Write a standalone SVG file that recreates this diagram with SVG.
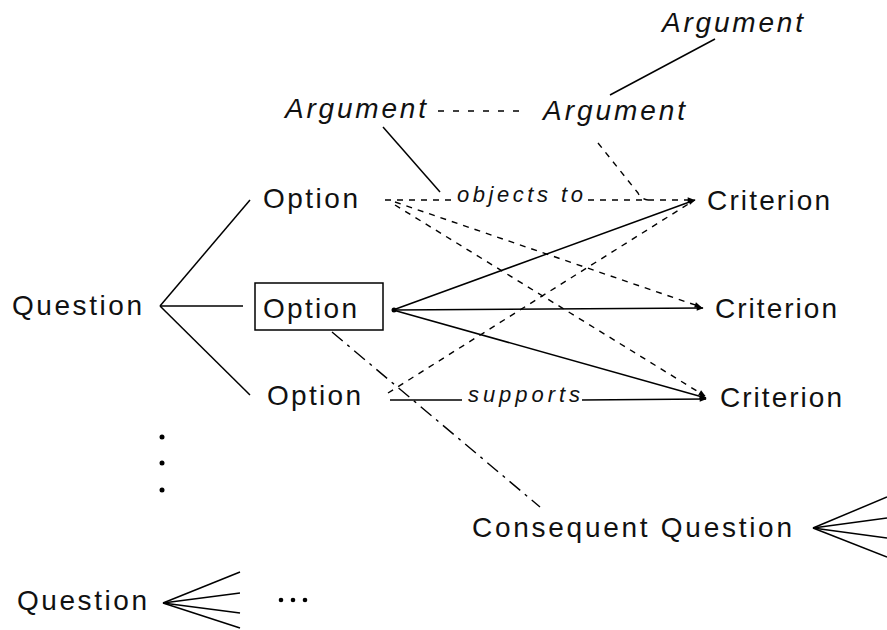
<svg xmlns="http://www.w3.org/2000/svg" width="887" height="630" viewBox="0 0 887 630">
<style>
text{font-family:"Liberation Sans",Arial,sans-serif;fill:#111;}
.n{font-size:28px;}
.a{font-size:28px;font-style:italic;}
.l{font-size:22px;font-style:italic;}
.s{stroke:#000;stroke-width:1.5;fill:none;}
.d{stroke:#000;stroke-width:1.4;fill:none;stroke-dasharray:6 6;}
.d2{stroke:#000;stroke-width:1.4;fill:none;stroke-dasharray:6 9;}
.dd{stroke:#000;stroke-width:1.4;fill:none;stroke-dasharray:14 6 3 6;}
</style>
<defs>
<marker id="ar" viewBox="0 0 10 10" refX="9" refY="5" markerWidth="9" markerHeight="7" markerUnits="userSpaceOnUse" orient="auto">
<path d="M0,1 L10,5 L0,9 z" fill="#000"/>
</marker>
</defs>
<g id="connectors">
<line class="s" x1="160" y1="306" x2="250" y2="200"/>
<line class="s" x1="160" y1="306" x2="243" y2="306"/>
<line class="s" x1="160" y1="306" x2="250" y2="395"/>
<line class="s" x1="610" y1="95" x2="715" y2="39"/>
<line class="d2" x1="438" y1="111" x2="528" y2="111"/>
<line class="s" x1="383" y1="127" x2="440" y2="192"/>
<path class="d" d="M598,143 L638,193 Q641,199 648,200"/>
<line class="d" x1="385" y1="200" x2="453" y2="200"/>
<line class="d" x1="588" y1="200" x2="694" y2="200" marker-end="url(#ar)"/>
<line class="d" x1="395" y1="202" x2="701" y2="307" marker-end="url(#ar)"/>
<line class="d" x1="395" y1="205" x2="705" y2="396" marker-end="url(#ar)"/>
<line class="d" x1="388" y1="393" x2="690" y2="203"/>
<line class="s" x1="393" y1="310" x2="695" y2="200" marker-end="url(#ar)"/>
<line class="s" x1="393" y1="310" x2="703" y2="308" marker-end="url(#ar)"/>
<line class="s" x1="393" y1="310" x2="706" y2="398" marker-end="url(#ar)"/>
<circle cx="394" cy="310" r="2.5" fill="#000"/>
<line class="s" x1="390" y1="400" x2="462" y2="400"/>
<line class="s" x1="582" y1="400" x2="706" y2="399" marker-end="url(#ar)"/>
<line class="dd" x1="332" y1="332" x2="540" y2="507"/>
<line class="s" x1="813" y1="528" x2="887" y2="497"/>
<line class="s" x1="813" y1="528" x2="887" y2="518"/>
<line class="s" x1="813" y1="528" x2="887" y2="538"/>
<line class="s" x1="813" y1="528" x2="887" y2="557"/>
<line class="s" x1="163" y1="603" x2="240" y2="572"/>
<line class="s" x1="163" y1="603" x2="240" y2="593"/>
<line class="s" x1="163" y1="603" x2="240" y2="613"/>
<line class="s" x1="163" y1="603" x2="240" y2="628"/>
<text class="l" x="457" y="202" textLength="126" lengthAdjust="spacing">objects to</text>
<text class="l" x="468" y="402" textLength="112" lengthAdjust="spacing">supports</text>
</g>
<g id="question1"><text class="n" x="12" y="315" textLength="130" lengthAdjust="spacing">Question</text></g>
<g id="option1"><text class="n" x="263" y="208" textLength="95" lengthAdjust="spacing">Option</text></g>
<g id="option2"><rect x="255" y="283" width="128" height="47" fill="none" stroke="#000" stroke-width="1.5"/><text class="n" x="263" y="318" textLength="94" lengthAdjust="spacing">Option</text></g>
<g id="option3"><text class="n" x="267" y="405" textLength="94" lengthAdjust="spacing">Option</text></g>
<g id="argument1"><text class="a" x="285" y="118" textLength="141" lengthAdjust="spacing">Argument</text></g>
<g id="argument2"><text class="a" x="543" y="120" textLength="142" lengthAdjust="spacing">Argument</text></g>
<g id="argument3"><text class="a" x="662" y="32" textLength="141" lengthAdjust="spacing">Argument</text></g>
<g id="criterion1"><text class="n" x="707" y="210" textLength="123" lengthAdjust="spacing">Criterion</text></g>
<g id="criterion2"><text class="n" x="715" y="318" textLength="122" lengthAdjust="spacing">Criterion</text></g>
<g id="criterion3"><text class="n" x="720" y="407" textLength="122" lengthAdjust="spacing">Criterion</text></g>
<g id="consequent"><text class="n" x="472" y="537" textLength="320" lengthAdjust="spacing">Consequent Question</text></g>
<g id="question2"><text class="n" x="17" y="610" textLength="130" lengthAdjust="spacing">Question</text></g>
<g id="vdots"><circle cx="162" cy="437" r="2.5" fill="#000"/><circle cx="162" cy="463" r="2.5" fill="#000"/><circle cx="162" cy="490" r="2.5" fill="#000"/></g>
<g id="hdots"><circle cx="281" cy="600" r="2.3" fill="#000"/><circle cx="293" cy="600" r="2.3" fill="#000"/><circle cx="305" cy="600" r="2.3" fill="#000"/></g>
</svg>
